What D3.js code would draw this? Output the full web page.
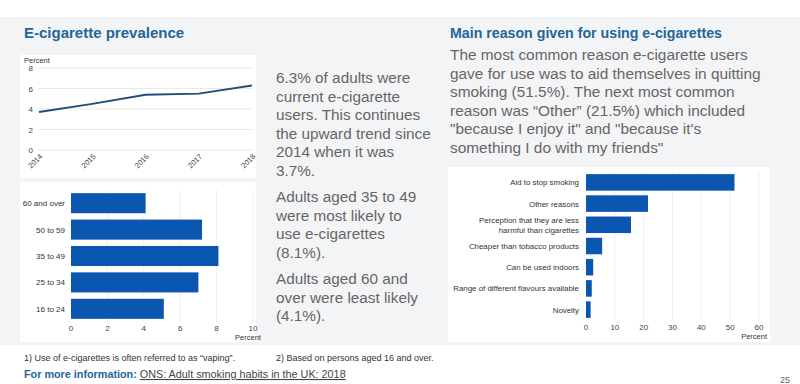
<!DOCTYPE html>
<html>
<head>
<meta charset="utf-8">
<script src="https://cdn.jsdelivr.net/npm/d3@7"></script>
<style>
  body { margin: 0; background: #fff; }
  svg { display: block; font-family: "Liberation Sans", Arial, sans-serif; }
</style>
</head>
<body>
<script>
// prevalence line
var years = ["2014", "2015", "2016", "2017", "2018"];
var prevalence = [3.7, 4.5, 5.4, 5.5, 6.3];
var prevTicks = [0, 2, 4, 6, 8];

// age bars
var ageGroups = ["60 and over", "50 to 59", "35 to 49", "25 to 34", "16 to 24"];
var ageValues = [4.1, 7.2, 8.1, 7.0, 5.1];
var ageTicks = [0, 2, 4, 6, 8, 10];

// reasons bars
var reasons = ["Aid to stop smoking", "Other reasons", "Perception that they are less|harmful than cigarettes",
  "Cheaper than tobacco products", "Can be used indoors", "Range of different flavours available", "Novelty"];
var reasonValues = [51.5, 21.5, 15.6, 5.6, 2.5, 2.0, 1.6];
var reasonTicks = [0, 10, 20, 30, 40, 50, 60];

var leftText = [
  ["6.3% of adults were", "current e-cigarette", "users. This continues", "the upward trend since", "2014 when it was", "3.7%."],
  ["Adults aged 35 to 49", "were most likely to", "use e-cigarettes", "(8.1%)."],
  ["Adults aged 60 and", "over were least likely", "(4.1%)."]
];
var rightText = ["The most common reason e-cigarette users", "gave for use was to aid themselves in quitting",
  "smoking (51.5%). The next most common", "reason was \u201cOther\u201d (21.5%) which included",
  "\"because I enjoy it\" and \"because it's", "something I do with my friends\""];

var blue = "#0b57b0", title = "#22669a", grey = "#666", dark = "#333", grid = "#e8e8e8";

var svg = d3.select("body").append("svg").attr("width", 800).attr("height", 384);

// panel backgrounds
svg.append("rect").attr("x", 0).attr("y", 17).attr("width", 800).attr("height", 328).attr("fill", "#f3f4f6");
svg.append("rect").attr("x", 20).attr("y", 55).attr("width", 236).attr("height", 123).attr("fill", "#fff");
svg.append("rect").attr("x", 20).attr("y", 182).attr("width", 236).attr("height", 160).attr("fill", "#fff");
svg.append("rect").attr("x", 448).attr("y", 167).attr("width", 322).attr("height", 175).attr("fill", "#fff");

svg.append("text").attr("x", 24).attr("y", 38).attr("font-size", 15).attr("font-weight", "bold")
  .attr("fill", title).text("E-cigarette prevalence");
svg.append("text").attr("x", 450).attr("y", 38).attr("font-size", 14.2).attr("font-weight", "bold")
  .attr("fill", title).text("Main reason given for using e-cigarettes");

// ---- line chart
var lx = d3.scalePoint().domain(years).range([39, 252]);
var ly = d3.scaleLinear().domain([0, 8]).range([150, 68]);
var lg = svg.append("g");
lg.selectAll("line.grid").data(prevTicks).enter().append("line")
  .attr("x1", 38).attr("x2", 252).attr("y1", function (d) { return ly(d); }).attr("y2", function (d) { return ly(d); })
  .attr("stroke", grid);
lg.selectAll("text.yt").data(prevTicks).enter().append("text")
  .attr("x", 33).attr("y", function (d) { return ly(d) + 3; }).attr("text-anchor", "end")
  .attr("font-size", 8).attr("fill", "#444").text(function (d) { return d; });
lg.append("text").attr("x", 24).attr("y", 63).attr("font-size", 7.5).attr("fill", dark).text("Percent");
lg.selectAll("text.xt").data(years).enter().append("text")
  .attr("transform", function (d) { return "translate(" + (lx(d) + 4) + ",157) rotate(-45)"; })
  .attr("text-anchor", "end").attr("font-size", 7.5).attr("fill", "#444").text(function (d) { return d; });
var line = d3.line()
  .x(function (d, i) { return lx(years[i]); })
  .y(function (d) { return ly(d); });
lg.append("path").attr("d", line(prevalence)).attr("fill", "none").attr("stroke", "#1f4e78").attr("stroke-width", 2);

// ---- age bars
var ax = d3.scaleLinear().domain([0, 10]).range([71, 253]);
var ay = d3.scaleBand().domain(ageGroups).range([190, 322]).paddingInner(0.24).paddingOuter(0.12);
var ag = svg.append("g");
ag.selectAll("line.grid").data(ageTicks.slice(1)).enter().append("line")
  .attr("x1", function (d) { return ax(d); }).attr("x2", function (d) { return ax(d); })
  .attr("y1", 190).attr("y2", 322).attr("stroke", "#efefef");
ag.selectAll("rect").data(ageValues).enter().append("rect")
  .attr("x", ax(0)).attr("y", function (d, i) { return ay(ageGroups[i]); })
  .attr("width", function (d) { return ax(d) - ax(0); }).attr("height", ay.bandwidth()).attr("fill", blue);
ag.selectAll("text.cat").data(ageGroups).enter().append("text")
  .attr("x", 65).attr("y", function (d) { return ay(d) + ay.bandwidth() / 2 + 3; }).attr("text-anchor", "end")
  .attr("font-size", 8).attr("fill", dark).text(function (d) { return d; });
ag.selectAll("text.xt").data(ageTicks).enter().append("text")
  .attr("x", function (d) { return ax(d); }).attr("y", 331).attr("text-anchor", "middle")
  .attr("font-size", 8).attr("fill", "#444").text(function (d) { return d; });
ag.append("text").attr("x", 248).attr("y", 340).attr("text-anchor", "middle").attr("font-size", 7.5)
  .attr("fill", dark).text("Percent");

// ---- left text column
var ty = 83;
leftText.forEach(function (para) {
  para.forEach(function (l) {
    svg.append("text").attr("x", 276).attr("y", ty).attr("font-size", 15.3).attr("fill", grey).text(l);
    ty += 18.6;
  });
  ty += 7.5;
});

// ---- right text
svg.selectAll("text.rt").data(rightText).enter().append("text")
  .attr("x", 450).attr("y", function (d, i) { return 60 + i * 18.6; })
  .attr("font-size", 15.4).attr("fill", grey).text(function (d) { return d; });

// ---- reasons bars
var rx = d3.scaleLinear().domain([0, 60]).range([586, 759]);
var ry = d3.scaleBand().domain(reasons).range([172, 320]).paddingInner(0.22).paddingOuter(0.1);
var rg = svg.append("g");
rg.selectAll("line.grid").data(reasonTicks.slice(1)).enter().append("line")
  .attr("x1", function (d) { return rx(d); }).attr("x2", function (d) { return rx(d); })
  .attr("y1", 172).attr("y2", 320).attr("stroke", "#efefef");
rg.selectAll("rect").data(reasonValues).enter().append("rect")
  .attr("x", rx(0)).attr("y", function (d, i) { return ry(reasons[i]); })
  .attr("width", function (d) { return rx(d) - rx(0); }).attr("height", ry.bandwidth()).attr("fill", blue);
rg.selectAll("text.cat").data(reasons).enter().append("text")
  .attr("x", 579).attr("text-anchor", "end").attr("font-size", 7.9).attr("fill", dark)
  .each(function (d) {
    var parts = d.split("|");
    var mid = ry(d) + ry.bandwidth() / 2;
    var t = d3.select(this);
    parts.forEach(function (p, k) {
      t.append("tspan").attr("x", 579)
        .attr("y", mid + 3 + (k - (parts.length - 1) / 2) * 9.5).text(p);
    });
  });
rg.selectAll("text.xt").data(reasonTicks).enter().append("text")
  .attr("x", function (d) { return rx(d); }).attr("y", 330).attr("text-anchor", "middle")
  .attr("font-size", 8).attr("fill", "#444").text(function (d) { return d; });
rg.append("text").attr("x", 767).attr("y", 339).attr("text-anchor", "end").attr("font-size", 7.5)
  .attr("fill", dark).text("Percent");

// ---- footer
var foot = svg.append("text").attr("x", 24).attr("y", 361).attr("font-size", 9)
  .attr("font-family", "'Liberation Sans Narrow', 'Liberation Sans', Arial, sans-serif").attr("fill", dark);
foot.append("tspan").text("1)  Use of e-cigarettes is often referred to as \u201cvaping\u201d.");
foot.append("tspan").attr("x", 276).text("2) Based on persons aged 16 and over.");
var more = svg.append("text").attr("x", 24).attr("y", 378).attr("font-size", 10.8);
more.append("tspan").attr("font-weight", "bold").attr("fill", title).text("For more information: ");
more.append("tspan").attr("fill", "#444").attr("text-decoration", "underline").text("ONS: Adult smoking habits in the UK: 2018");
svg.append("text").attr("x", 790).attr("y", 383).attr("text-anchor", "end").attr("font-size", 9)
  .attr("fill", grey).text("25");
</script>
</body>
</html>
